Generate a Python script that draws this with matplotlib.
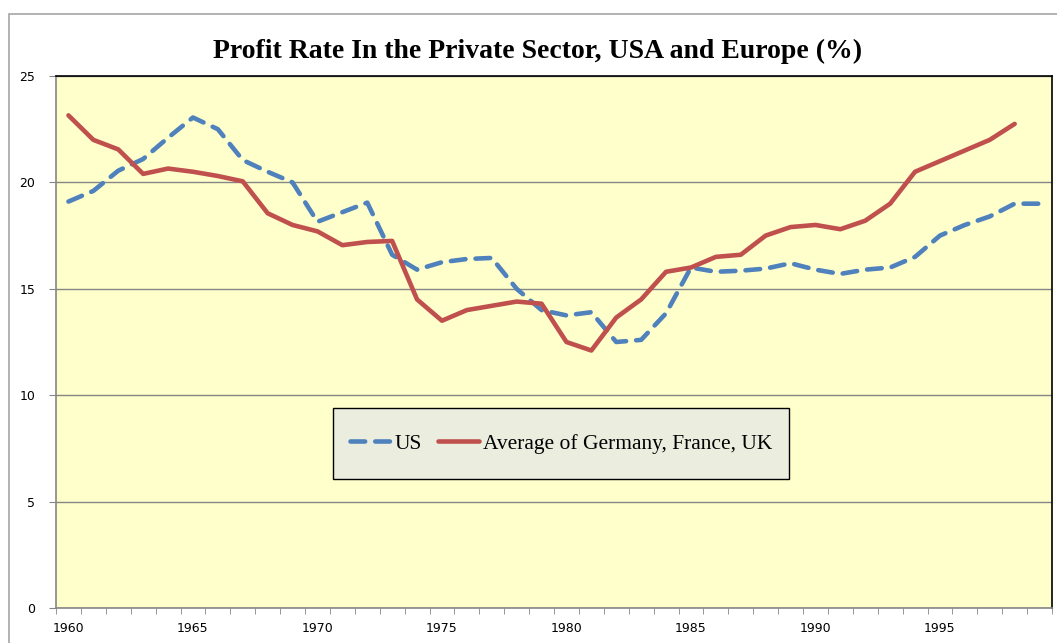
import matplotlib.pyplot as plt
from matplotlib.patches import Rectangle
from matplotlib.ticker import FixedLocator

years = list(range(1960, 2000))
us = [19.1, 19.6, 20.55, 21.1, 22.1, 23.05, 22.5, 21.05, 20.5, 20.0,
      18.15, 18.6, 19.05, 16.6, 15.9, 16.25, 16.4, 16.45, 15.0, 14.0,
      13.75, 13.9, 12.5, 12.6, 13.85, 16.0, 15.8, 15.85, 15.95, 16.2,
      15.9, 15.7, 15.9, 16.0, 16.5, 17.5, 18.0, 18.4, 19.0, 19.0]
europe = [23.15, 22.0, 21.55, 20.4, 20.65, 20.5, 20.3, 20.05, 18.55, 18.0,
          17.7, 17.05, 17.2, 17.25, 14.5, 13.5, 14.0, 14.2, 14.4, 14.3,
          12.5, 12.1, 13.65, 14.5, 15.8, 16.0, 16.5, 16.6, 17.5, 17.9,
          18.0, 17.8, 18.2, 19.0, 20.5, 21.0, 21.5, 22.0, 22.75]
x_labels = ["1960", "1965", "1970", "1975", "1980", "1985", "1990", "1995"]

fig = plt.figure(figsize=(10.57, 6.43), dpi=100)
# outer chart frame
fig.patches.append(Rectangle((9 / 1057, -0.01), 1.02, 1 - 14 / 643 + 0.01,
                             transform=fig.transFigure, fill=False,
                             edgecolor="#a6a6a6", linewidth=1.2))

ax = fig.add_axes([56 / 1057, 35 / 643, 996 / 1057, 532 / 643])
ax.set_facecolor("#ffffcc")

xs = list(range(len(years)))
ax.plot(xs, us, color="#4f81bd", linewidth=3.3, dashes=(3.2, 2.2),
        dash_capstyle="round", label="US", zorder=3)
ax.plot(xs[:len(europe)], europe, color="#c0504d", linewidth=3.3,
        solid_capstyle="round", label="Average of Germany, France, UK", zorder=3)

ax.set_xlim(-0.5, len(years) - 0.5)
ax.set_ylim(0, 25)
ax.set_yticks([0, 5, 10, 15, 20, 25])
ax.yaxis.grid(True, color="#868686", linewidth=1)
ax.set_axisbelow(True)

ax.set_xticks([i * 5 for i in range(len(x_labels))])
ax.set_xticklabels(x_labels)
ax.xaxis.set_minor_locator(FixedLocator([i - 0.5 for i in range(len(years) + 1)]))
ax.tick_params(axis="x", which="major", length=0, pad=10, labelsize=9)
ax.tick_params(axis="x", which="minor", length=4, color="#868686", direction="out")
ax.tick_params(axis="y", length=5, color="#868686", labelsize=9, pad=10)

for side in ["left", "bottom"]:
    ax.spines[side].set_color("#868686")
    ax.spines[side].set_linewidth(1.2)
for side in ["top", "right"]:
    ax.spines[side].set_color("black")
    ax.spines[side].set_linewidth(1.2)

fig.text(537.5 / 1057, 1 - 51 / 643, "Profit Rate In the Private Sector, USA and Europe (%)",
         ha="center", va="center", fontsize=20, fontweight="bold",
         family="Liberation Serif")

# legend box drawn separately so the padding can differ from the text layout
ax.add_patch(Rectangle((0.278, 0.2425), 0.458, 0.134, transform=ax.transAxes,
                       facecolor="#ebeedf", edgecolor="black", linewidth=1.0,
                       zorder=4))
leg = ax.legend(loc="center", bbox_to_anchor=(0.507, 0.309), ncol=2,
                frameon=False, handlelength=1.95, handletextpad=0.15,
                columnspacing=0.7, borderaxespad=0,
                prop={"family": "Liberation Serif", "size": 15.5})
leg.set_zorder(5)

fig.savefig("out.png", dpi=100)
